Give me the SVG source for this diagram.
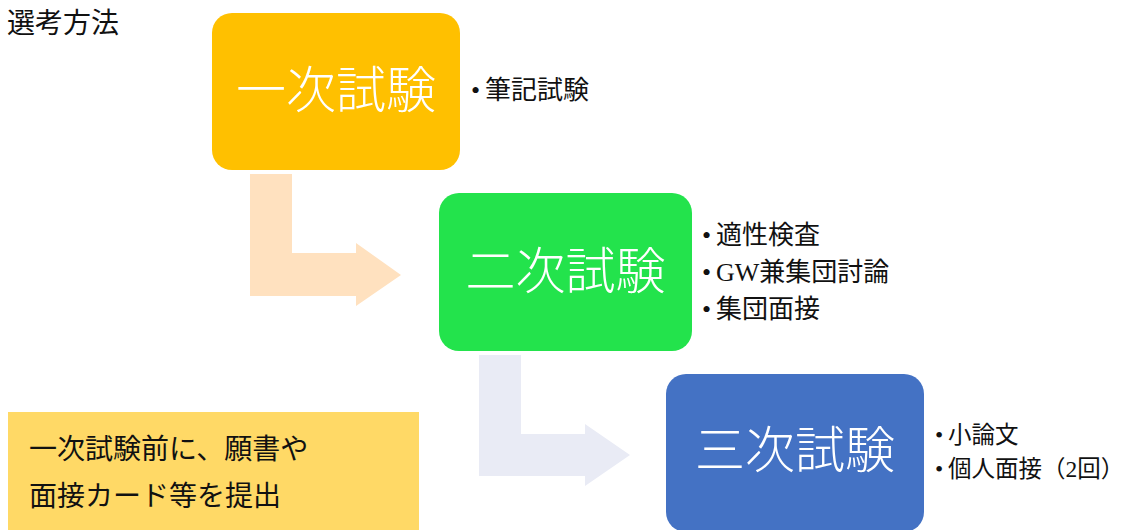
<svg xmlns="http://www.w3.org/2000/svg" width="1136" height="530" viewBox="0 0 1136 530">
  <style>
    .head { font-family: "Noto Sans CJK JP", "Noto Sans CJK SC", sans-serif; font-size: 50px; font-weight: 300; fill: #ffffff; text-anchor: middle; }
    .item { font-family: "Liberation Serif", "Noto Sans CJK JP", serif; font-size: 26px; fill: #111111; }
    .small { font-size: 23.5px; }
    .cjk { font-family: "Noto Sans CJK JP", sans-serif; }
    .note { font-family: "Noto Sans CJK JP", sans-serif; font-size: 28px; fill: #111111; }
  </style>
  <rect width="1136" height="530" fill="#ffffff"/>
  <g id="title">
    <text class="note" x="7" y="33">選考方法</text>
  </g>
  <g id="connectors">
    <path id="arrow1" d="M250,174 H292 V253 H356 V243 L401,275 L356,306 V296 H250 Z" fill="#FFE1BF"/>
    <path id="arrow2" d="M479,355 H521 V434 H585 V424 L630,455 L585,486 V476 H479 Z" fill="#E9EBF5"/>
  </g>
  <g id="node-1">
    <rect x="212" y="13" width="248" height="157" rx="20" fill="#FFC000"/>
    <text class="head" x="336" y="108">一次試験</text>
  </g>
  <g id="list-1">
    <text class="item" y="99"><tspan x="471">•</tspan><tspan class="cjk" x="485">筆記試験</tspan></text>
  </g>
  <g id="node-2">
    <rect x="439" y="193" width="253" height="158" rx="20" fill="#23E34C"/>
    <text class="head" x="565.5" y="289">二次試験</text>
  </g>
  <g id="list-2">
    <text class="item" y="244"><tspan x="702">•</tspan><tspan class="cjk" x="716">適性検査</tspan></text>
    <text class="item" y="281"><tspan x="702">•</tspan><tspan x="716">GW</tspan><tspan class="cjk">兼集団討論</tspan></text>
    <text class="item" y="318"><tspan x="702">•</tspan><tspan class="cjk" x="716">集団面接</tspan></text>
  </g>
  <g id="node-3">
    <rect x="666" y="374" width="258" height="158" rx="20" fill="#4472C4"/>
    <text class="head" x="795" y="468">三次試験</text>
  </g>
  <g id="list-3">
    <text class="item small" y="443"><tspan x="935">•</tspan><tspan class="cjk" x="948">小論文</tspan></text>
    <text class="item small" y="477"><tspan x="935">•</tspan><tspan class="cjk" x="948">個人面接（</tspan><tspan>2</tspan><tspan class="cjk">回）</tspan></text>
  </g>
  <g id="note">
    <rect x="8" y="412" width="411" height="130" fill="#FFD966"/>
    <text class="note" x="29" y="459">一次試験前に、願書や</text>
    <text class="note" x="29" y="506">面接カード等を提出</text>
  </g>
</svg>
